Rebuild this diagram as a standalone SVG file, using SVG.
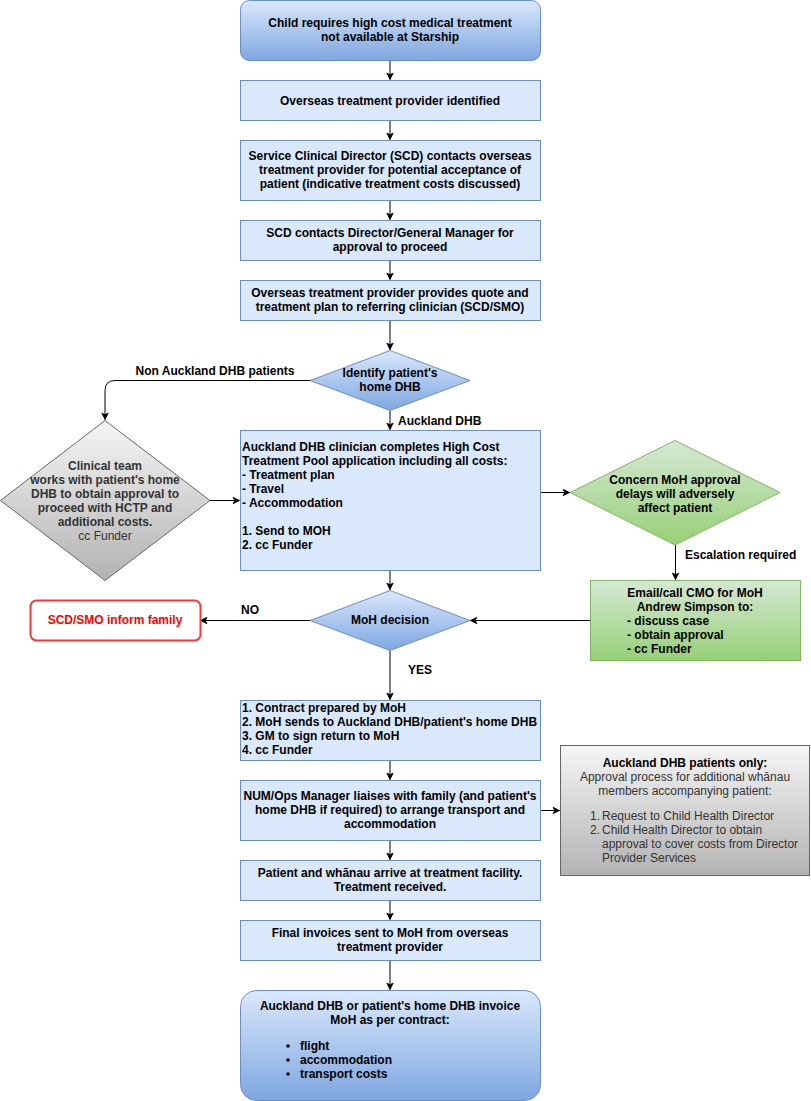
<svg xmlns="http://www.w3.org/2000/svg" width="811" height="1101" viewBox="0 0 811 1101">
<style>
text{font-family:"Liberation Sans",Arial,sans-serif;font-size:12px;fill:#000}
.b{font-weight:bold}
.c{text-anchor:middle}
.box{fill:#dae8fc;stroke:#6c8ebf;stroke-width:1}
.gb{fill:url(#gBlue);stroke:#6c8ebf;stroke-width:1}
.gg{fill:url(#gGreen);stroke:#82b366;stroke-width:1}
.gy{fill:url(#gGray);stroke:#666666;stroke-width:1}
.ln{fill:none;stroke:#000;stroke-width:1;marker-end:url(#arr)}
.gt{fill:#333333}
</style>
<defs>
<linearGradient id="gBlue" x1="0" y1="0" x2="0" y2="1"><stop offset="0" stop-color="#dae8fc"/><stop offset="1" stop-color="#7ea6e0"/></linearGradient>
<linearGradient id="gGreen" x1="0" y1="0" x2="0" y2="1"><stop offset="0" stop-color="#d5e8d4"/><stop offset="1" stop-color="#97d077"/></linearGradient>
<linearGradient id="gGray" x1="0" y1="0" x2="0" y2="1"><stop offset="0" stop-color="#f5f5f5"/><stop offset="1" stop-color="#b3b3b3"/></linearGradient>
<marker id="arr" viewBox="0 0 10 10" refX="9" refY="5" markerWidth="8" markerHeight="8" markerUnits="userSpaceOnUse" orient="auto"><path d="M1,1 L9,5 L1,9 L3,5 z" fill="#000" stroke="#000" stroke-width="1"/></marker>
</defs>

<g id="connectors">
<path class="ln" d="M390,60.5 V79.5"/>
<path class="ln" d="M390,120.5 V139.5"/>
<path class="ln" d="M390,200.5 V219.5"/>
<path class="ln" d="M390,260.5 V279.5"/>
<path class="ln" d="M390,320.5 V349.5"/>
<path class="ln" d="M310,380.5 H115 Q105,380.5 105,390.5 V419.5"/>
<path class="ln" d="M390,410.5 V429.5"/>
<path class="ln" d="M210,500.5 H239.5"/>
<path class="ln" d="M540.5,492.5 H569.5"/>
<path class="ln" d="M675.5,545 V579.5"/>
<path class="ln" d="M390,570.5 V589.5"/>
<path class="ln" d="M590,620.5 H470.5"/>
<path class="ln" d="M310,620.5 H200.5"/>
<path class="ln" d="M390,650.5 V699.5"/>
<path class="ln" d="M390,760.5 V779.5"/>
<path class="ln" d="M540.5,810.5 H559.5"/>
<path class="ln" d="M390,840.5 V859.5"/>
<path class="ln" d="M390,900.5 V919.5"/>
<path class="ln" d="M390,960.5 V989.5"/>
<text x="215" y="375" class="c b">Non Auckland DHB patients</text>
<text x="398" y="425" class="b">Auckland DHB</text>
<text x="685" y="559" class="b">Escalation required</text>
<text x="250" y="614" class="c b">NO</text>
<text x="420" y="674" class="c b">YES</text>
</g>

<g id="start">
<rect x="240.5" y="0.5" width="300" height="60" rx="9" class="gb"/>
<text x="390" y="27" class="c b">Child requires high cost medical treatment</text>
<text x="390" y="41" class="c b">not available at Starship</text>
</g>

<g id="provider-identified">
<rect x="240.5" y="80.5" width="300" height="40" class="box"/>
<text x="390" y="105" class="c b">Overseas treatment provider identified</text>
</g>

<g id="scd-contacts">
<rect x="240.5" y="140.5" width="300" height="60" class="box"/>
<text x="390" y="160" class="c b">Service Clinical Director (SCD) contacts overseas</text>
<text x="390" y="174" class="c b">treatment provider for potential acceptance of</text>
<text x="390" y="188" class="c b">patient (indicative treatment costs discussed)</text>
</g>

<g id="scd-gm">
<rect x="240.5" y="220.5" width="300" height="40" class="box"/>
<text x="390" y="237" class="c b">SCD contacts Director/General Manager for</text>
<text x="390" y="251" class="c b">approval to proceed</text>
</g>

<g id="quote">
<rect x="240.5" y="280.5" width="300" height="40" class="box"/>
<text x="390" y="297" class="c b">Overseas treatment provider provides quote and</text>
<text x="390" y="311" class="c b">treatment plan to referring clinician (SCD/SMO)</text>
</g>

<g id="identify-dhb">
<path d="M390,350.5 L470,380.5 L390,410.5 L310,380.5 Z" class="gb"/>
<text x="390" y="377" class="c b">Identify patient's</text>
<text x="390" y="391" class="c b">home DHB</text>
</g>

<g id="clinical-team">
<path d="M105,420.5 L210,500.5 L105,580.5 L0.5,500.5 Z" class="gy"/>
<text x="105" y="470" class="c b gt">Clinical team</text>
<text x="105" y="484" class="c b gt">works with patient's home</text>
<text x="105" y="498" class="c b gt">DHB to obtain approval to</text>
<text x="105" y="512" class="c b gt">proceed with HCTP and</text>
<text x="105" y="526" class="c b gt">additional costs.</text>
<text x="105" y="540" class="c gt">cc Funder</text>
</g>

<g id="hctp-application">
<rect x="240.5" y="430.5" width="300" height="140" class="box"/>
<text x="242" y="451" class="b">Auckland DHB clinician completes High Cost</text>
<text x="242" y="465" class="b">Treatment Pool application including all costs:</text>
<text x="242" y="479" class="b">- Treatment plan</text>
<text x="242" y="493" class="b">- Travel</text>
<text x="242" y="507" class="b">- Accommodation</text>
<text x="242" y="535" class="b">1. Send to MOH</text>
<text x="242" y="549" class="b">2. cc Funder</text>
</g>

<g id="concern">
<path d="M675,440.5 L780,492.5 L675,545 L570,492.5 Z" class="gg"/>
<text x="675" y="484" class="c b">Concern MoH approval</text>
<text x="675" y="498" class="c b">delays will adversely</text>
<text x="675" y="512" class="c b">affect patient</text>
</g>

<g id="email-cmo">
<rect x="590.5" y="580.5" width="210" height="80" class="gg"/>
<text x="695" y="597" class="c b">Email/call CMO for MoH</text>
<text x="695" y="611" class="c b">Andrew Simpson to:</text>
<text x="627" y="625" class="b">- discuss case</text>
<text x="627" y="639" class="b">- obtain approval</text>
<text x="627" y="653" class="b">- cc Funder</text>
</g>

<g id="moh-decision">
<path d="M390,590.5 L470,620.5 L390,650.5 L310,620.5 Z" class="gb"/>
<text x="390" y="624" class="c b">MoH decision</text>
</g>

<g id="inform-family">
<rect x="30.5" y="600.5" width="170" height="40" rx="6" fill="#ffffff" stroke="#ff3333" stroke-width="2"/>
<text x="115" y="624" class="c b" style="fill:#ff0000">SCD/SMO inform family</text>
</g>

<g id="contract">
<rect x="240.5" y="700.5" width="300" height="60" class="box"/>
<text x="242" y="712" class="b">1. Contract prepared by MoH</text>
<text x="242" y="726" class="b">2. MoH sends to Auckland DHB/patient's home DHB</text>
<text x="242" y="740" class="b">3. GM to sign return to MoH</text>
<text x="242" y="754" class="b">4. cc Funder</text>
</g>

<g id="num-ops">
<rect x="240.5" y="780.5" width="300" height="60" class="box"/>
<text x="390" y="800" class="c b">NUM/Ops Manager liaises with family (and patient's</text>
<text x="390" y="814" class="c b">home DHB if required) to arrange transport and</text>
<text x="390" y="828" class="c b">accommodation</text>
</g>

<g id="whanau-approval">
<rect x="560.5" y="745.5" width="249" height="130" class="gy"/>
<text x="685" y="767" class="c b" style="fill:#000">Auckland DHB patients only:</text>
<text x="685" y="781" class="c gt">Approval process for additional whānau</text>
<text x="685" y="795" class="c gt">members accompanying patient:</text>
<text x="590" y="820" class="gt">1.</text><text x="602" y="820" class="gt">Request to Child Health Director</text>
<text x="590" y="834" class="gt">2.</text><text x="602" y="834" class="gt">Child Health Director to obtain</text>
<text x="602" y="848" class="gt">approval to cover costs from Director</text>
<text x="602" y="862" class="gt">Provider Services</text>
</g>

<g id="arrive">
<rect x="240.5" y="860.5" width="300" height="40" class="box"/>
<text x="390" y="877" class="c b">Patient and whānau arrive at treatment facility.</text>
<text x="390" y="891" class="c b">Treatment received.</text>
</g>

<g id="final-invoices">
<rect x="240.5" y="920.5" width="300" height="40" class="box"/>
<text x="390" y="937" class="c b">Final invoices sent to MoH from overseas</text>
<text x="390" y="951" class="c b">treatment provider</text>
</g>

<g id="invoice-moh">
<rect x="240.5" y="990.5" width="300" height="110" rx="16" class="gb"/>
<text x="390" y="1010" class="c b">Auckland DHB or patient's home DHB invoice</text>
<text x="390" y="1024" class="c b">MoH as per contract:</text>
<circle cx="288" cy="1046" r="1.8" fill="#000"/>
<circle cx="288" cy="1060" r="1.8" fill="#000"/>
<circle cx="288" cy="1074" r="1.8" fill="#000"/>
<text x="300" y="1050" class="b">flight</text>
<text x="300" y="1064" class="b">accommodation</text>
<text x="300" y="1078" class="b">transport costs</text>
</g>
</svg>
